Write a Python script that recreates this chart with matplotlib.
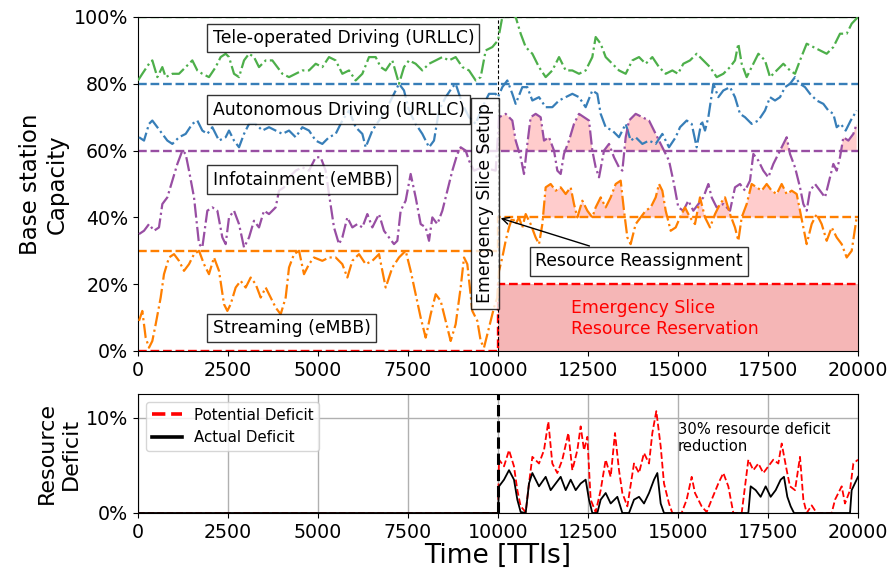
import numpy as np
import matplotlib
matplotlib.use("Agg")
import matplotlib.pyplot as plt
from matplotlib.ticker import PercentFormatter
from matplotlib.lines import Line2D

# ---------------- data (TTI, % of base station capacity) ----------------
tele_x = [0, 120, 306, 398, 537, 676, 769, 954, 1139, 1324, 1509, 1648, 1787, 1972, 2158, 2296,
          2435, 2528, 2667, 2806, 2945, 3084, 3222, 3361, 3547, 3732, 3871, 4010, 4195, 4380,
          4565, 4750, 4936, 5120, 5306, 5491, 5676, 5861, 6046, 6232, 6417, 6602, 6741, 6880,
          7065, 7250, 7389, 7528, 7713, 7898, 8084, 8269, 8454, 8639, 8824, 9010, 9195, 9380,
          9519, 9658, 9843, 10000, 10120, 10306, 10491, 10630, 10769, 10954, 11139, 11324,
          11509, 11695, 11880, 12065, 12250, 12435, 12620, 12713, 12852, 12991, 13176, 13361,
          13547, 13732, 13917, 14102, 14287, 14473, 14658, 14843, 15000, 15148, 15333, 15519,
          15704, 15889, 16074, 16259, 16445, 16583, 16676, 16769, 16908, 17093, 17232, 17417,
          17556, 17741, 17926, 18111, 18250, 18389, 18574, 18760, 18945, 19130, 19315, 19500,
          19686, 19825, 20000]
tele_y = [81, 83, 86, 87, 82, 85, 82, 83, 83, 85, 87, 84, 83, 82, 85, 88,
          89, 88, 83, 82, 87, 89, 88, 85, 87, 87, 85, 83, 82, 83,
          84, 84, 86, 85, 88, 87, 83, 84, 81, 83, 88, 88, 85, 84,
          87, 80, 85, 87, 86, 84, 86, 87, 88, 87, 88, 85, 84, 81,
          82, 90, 91, 93, 100, 101, 100, 95, 91, 89, 85, 82,
          84, 88, 84, 84, 83, 84, 88, 94, 92, 88, 86, 84,
          83, 87, 88, 86, 88, 85, 83, 84, 83, 86, 87, 89,
          87, 85, 82, 83, 85, 87, 92, 86, 82, 86, 89, 87,
          82, 84, 86, 84, 83, 87, 92, 91, 90, 89, 91, 95,
          95, 98, 100]

auto_x = [28, 167, 306, 398, 537, 676, 815, 954, 1139, 1324, 1509, 1648, 1787, 1926, 2065, 2250,
          2435, 2528, 2667, 2806, 2945, 3084, 3269, 3454, 3639, 3824, 4010, 4195, 4380, 4565,
          4750, 4936, 5120, 5306, 5491, 5676, 5861, 6046, 6232, 6324, 6509, 6695, 6880, 7065,
          7250, 7389, 7528, 7713, 7898, 8084, 8222, 8361, 8546, 8732, 8824, 9010, 9195, 9380,
          9565, 9750, 9936, 10000, 10120, 10259, 10398, 10491, 10676, 10815, 10954, 11139,
          11324, 11509, 11695, 11880, 12065, 12250, 12435, 12620, 12759, 12852, 12991, 13176,
          13361, 13547, 13685, 13824, 14010, 14195, 14380, 14565, 14750, 14936, 15056, 15241,
          15380, 15519, 15657, 15750, 15843, 15982, 16120, 16259, 16445, 16583, 16722, 16861,
          17046, 17232, 17417, 17556, 17695, 17834, 17973, 18111, 18250, 18389, 18528, 18667,
          18852, 19037, 19176, 19315, 19408, 19519, 19658, 19797, 19963]
auto_y = [64, 63, 68, 69, 67, 65, 63, 62, 64, 65, 68, 69, 66, 65, 67, 63,
          64, 66, 63, 61, 65, 68, 68, 66, 67, 66, 65, 66, 64, 67,
          66, 63, 62, 64, 65, 69, 72, 67, 65, 61, 66, 69, 72, 76,
          80, 78, 72, 68, 65, 61, 63, 72, 76, 79, 80, 74, 70, 68,
          73, 77, 77, 76, 79, 81, 77, 74, 79, 79, 75, 76,
          73, 73, 75, 76, 77, 76, 73, 78, 77, 71, 67, 66,
          64, 68, 63, 64, 62, 63, 62, 65, 61, 64, 67, 69,
          68, 61, 69, 66, 70, 80, 76, 78, 79, 76, 71, 70,
          68, 69, 72, 76, 75, 76, 79, 80, 82, 80, 79, 77,
          75, 74, 72, 71, 67, 68, 66, 69, 72]

info_x = [28, 167, 306, 444, 583, 676, 815, 954, 1093, 1232, 1324, 1417, 1556, 1695, 1787, 1926,
          2065, 2204, 2343, 2435, 2528, 2667, 2806, 2945, 3084, 3222, 3361, 3500, 3639, 3824,
          3917, 4056, 4195, 4380, 4565, 4750, 4936, 5074, 5213, 5306, 5444, 5583, 5676, 5815,
          5954, 6093, 6232, 6370, 6509, 6695, 6833, 6972, 7111, 7204, 7296, 7435, 7574, 7713,
          7852, 7991, 8084, 8176, 8315, 8454, 8593, 8732, 8871, 8963, 9102, 9195, 9334, 9565,
          9936, 10028, 10213, 10398, 10491, 10630, 10722, 10815, 10907, 11046, 11185, 11278,
          11417, 11556, 11648, 11741, 11833, 11972, 12111, 12250, 12389, 12528, 12620, 12713,
          12806, 12945, 13084, 13222, 13361, 13454, 13547, 13639, 13824, 14010, 14195, 14334,
          14473, 14611, 14750, 14889, 15009, 15148, 15287, 15426, 15565, 15704, 15843, 15935,
          16074, 16259, 16445, 16583, 16722, 16861, 17000, 17093, 17232, 17370, 17509, 17648,
          17787, 17926, 18019, 18111, 18250, 18389, 18482, 18574, 18667, 18806, 18945, 19084,
          19176, 19315, 19408, 19500, 19593, 19732, 19871, 19963]
info_y = [35, 36, 38, 36, 37, 44, 46, 51, 56, 60, 59, 54, 46, 32, 31, 42,
          43, 42, 34, 32, 40, 42, 38, 31, 34, 39, 37, 42, 41, 43,
          48, 49, 52, 54, 55, 54, 58, 58, 54, 47, 37, 32, 34, 40,
          37, 38, 37, 41, 37, 41, 36, 34, 32, 33, 42, 45, 53, 46,
          38, 37, 33, 40, 38, 42, 48, 54, 59, 61, 60, 57, 54, 55,
          54, 70, 71, 69, 63, 58, 53, 62, 70, 71, 70, 63,
          64, 60, 54, 53, 59, 63, 68, 71, 70, 69, 60, 55,
          52, 60, 62, 58, 55, 54, 64, 69, 71, 70, 69, 66,
          63, 60, 57, 50, 43, 42, 45, 42, 44, 46, 50, 46,
          43, 44, 42, 49, 50, 48, 51, 59, 57, 54, 52, 56,
          59, 62, 64, 59, 55, 49, 44, 42, 48, 50, 48, 46,
          50, 56, 54, 58, 64, 63, 65, 68]

stream_x = [28, 120, 213, 306, 398, 491, 630, 722, 861, 1000, 1139, 1278, 1417, 1556, 1695, 1833,
            1972, 2111, 2250, 2389, 2482, 2574, 2713, 2852, 2991, 3130, 3269, 3408, 3547, 3685,
            3824, 3963, 4102, 4195, 4334, 4473, 4611, 4750, 4889, 5120, 5306, 5491, 5676, 5815,
            5954, 6139, 6324, 6509, 6695, 6880, 7065, 7250, 7435, 7574, 7713, 7852, 7991, 8130,
            8269, 8408, 8546, 8685, 8824, 8963, 9056, 9148, 9287, 9426, 9519, 9611, 9750, 9889,
            9982, 10028, 10120, 10213, 10306, 10398, 10491, 10583, 10676, 10769, 10907, 11046,
            11139, 11232, 11324, 11463, 11602, 11741, 11880, 12019, 12111, 12204, 12343, 12482,
            12620, 12713, 12852, 12991, 13130, 13269, 13408, 13500, 13593, 13685, 13824, 13963,
            14102, 14241, 14380, 14473, 14565, 14658, 14797, 14936, 15056, 15194, 15333, 15472,
            15611, 15750, 15889, 16028, 16167, 16306, 16445, 16583, 16676, 16769, 16908, 17046,
            17185, 17324, 17463, 17602, 17741, 17880, 18019, 18158, 18297, 18389, 18482, 18574,
            18713, 18852, 18991, 19130, 19269, 19408, 19547, 19686, 19825, 19963]
stream_y = [9, 12, 4, 1, 3, 8, 16, 23, 28, 29, 27, 24, 26, 29, 30, 26,
            23, 28, 24, 14, 12, 14, 19, 21, 19, 22, 20, 16, 19, 16,
            13, 11, 16, 25, 29, 30, 23, 26, 28, 27, 28, 28, 26, 22,
            27, 29, 26, 27, 29, 19, 25, 28, 30, 24, 17, 10, 4, 11,
            17, 15, 9, 3, 8, 19, 28, 26, 12, 9, 3, 1, 7, 13,
            16, 24, 28, 33, 37, 40, 38, 40, 37, 41, 38, 34,
            32, 38, 49, 50, 48, 49, 47, 49, 44, 40, 45, 42,
            40, 43, 46, 43, 46, 50, 51, 42, 34, 32, 38, 40,
            42, 43, 46, 50, 48, 42, 36, 37, 40, 43, 40, 38,
            46, 40, 37, 41, 44, 46, 41, 37, 33, 40, 44, 50,
            49, 48, 50, 48, 47, 50, 47, 48, 47, 42, 37, 32,
            38, 41, 38, 33, 37, 34, 32, 28, 30, 40]

# upper capacity bound of every slice before / after the emergency slice setup
setup_tti = 10000
bound_x = [0, setup_tti, 20000]
tele_bound = [100, 100, 100]
auto_bound = [80, 80, 80]
info_bound = [60, 60, 60]
stream_bound = [30, 40, 40]
emerg_bound = [0, 20, 20]

# resource deficit (%)
pot_x = [0, 10000, 10028, 10167, 10306, 10444, 10537, 10630, 10769, 10861, 10954, 11139, 11278,
         11398, 11509, 11648, 11787, 11954, 12065, 12204, 12296, 12389, 12482, 12574, 12713,
         12852, 12991, 13130, 13250, 13361, 13454, 13593, 13778, 13917, 14056, 14195, 14287,
         14398, 14519, 14611, 14750, 14843, 15100, 15241, 15380, 15472, 15657, 15796, 15935,
         16120, 16259, 16398, 16537, 16769, 16954, 17093, 17232, 17370, 17509, 17648, 17787,
         17880, 18019, 18111, 18250, 18389, 18482, 18574, 18713, 18852, 19269, 19362, 19547,
         19639, 19778, 19871, 20000]
pot_y = [0, 0, 5.6, 4.9, 6.6, 4.9, 2.4, 0.7, 0.1, 3.1, 5.9, 5.2, 6.6,
         9.6, 5.2, 4.2, 5.6, 8.4, 4.5, 6.6, 9.1, 6.6, 8.0, 1.4, 0.1,
         2.4, 5.6, 3.8, 8.4, 4.5, 2.1, 0.7, 5.2, 4.2, 6.3, 5.2, 8.4,
         10.7, 7.0, 3.1, 1.0, 0, 0, 1.4, 3.8, 2.1, 0.7, 0.1, 1.4,
         3.1, 4.2, 2.8, 0, 0, 5.6, 4.5, 5.2, 4.2, 4.9, 5.6, 5.2,
         7.3, 4.5, 2.8, 2.4, 5.9, 1.4, 0, 0.8, 0, 0, 1.4, 2.8,
         1.0, 2.4, 5.2, 5.6]

act_x = [0, 10000, 10028, 10167, 10306, 10444, 10537, 10630, 10769, 10861, 10954, 11139, 11324,
         11463, 11602, 11741, 11880, 12019, 12158, 12296, 12435, 12528, 12620, 12759, 12852,
         12991, 13130, 13315, 13454, 13639, 13778, 13917, 14056, 14195, 14334, 14426, 14519,
         14611, 16954, 17019, 17158, 17296, 17435, 17574, 17713, 17852, 17944, 18037, 18130,
         18222, 19778, 19824, 20000]
act_y = [0, 0, 2.8, 3.5, 4.5, 3.5, 1.4, 0.1, 0, 3.1, 4.2, 2.8, 3.8,
         2.4, 3.1, 3.8, 2.4, 3.5, 2.4, 3.1, 3.5, 1.4, 0, 0, 1.4,
         2.1, 1.0, 1.7, 0, 0, 1.4, 1.7, 1.0, 2.1, 3.5, 4.2, 1.0,
         0, 0, 2.8, 2.4, 1.7, 2.8, 1.7, 2.4, 3.5, 3.8, 1.7, 0.7,
         0, 0, 2.4, 3.8]

# ---------------- styling ----------------
C_GREEN = "#4daf4a"
C_BLUE = "#377eb8"
C_PURPLE = "#984ea3"
C_ORANGE = "#ff7f00"
C_RED = "#ff0000"
OVERFLOW = "#ffcccc"
RESERVED = "#f5b6b6"

TICK_FS = 13.7
BOX_FS = 12.4

fig = plt.figure(figsize=(8.91, 5.74), dpi=100)
ax = fig.add_axes([138 / 891, 1 - 351 / 574, 720 / 891, 334 / 574])
ax2 = fig.add_axes([138 / 891, 1 - 513 / 574, 720 / 891, 119 / 574])

box = dict(boxstyle="square,pad=0.3", facecolor="white", edgecolor="black", alpha=0.8)


def bound_at(x, bound):
    x = np.asarray(x, dtype=float)
    return np.where(x < setup_tti, bound[0], bound[-1])


# reserved capacity for the emergency slice
ax.fill_between(bound_x[1:], 0, emerg_bound[1:], color=RESERVED, lw=0, zorder=1)

# overflow of the eMBB slices above their bound
for xs, ys, bnd in [(info_x, info_y, info_bound), (stream_x, stream_y, stream_bound)]:
    xa = np.asarray(xs, dtype=float)
    ya = np.asarray(ys, dtype=float)
    ba = bound_at(xa, bnd)
    ax.fill_between(xa, ba, ya, where=ya > ba, interpolate=True,
                    color=OVERFLOW, lw=0, zorder=1)

# slice bounds
for bnd, col in [(tele_bound, C_GREEN), (auto_bound, C_BLUE), (info_bound, C_PURPLE),
                 (stream_bound, C_ORANGE), (emerg_bound, C_RED)]:
    ax.plot(bound_x, bnd, drawstyle="steps-post", ls="--", lw=1.7, color=col, zorder=2)

# slice usage
for xs, ys, col in [(tele_x, tele_y, C_GREEN), (auto_x, auto_y, C_BLUE),
                    (info_x, info_y, C_PURPLE), (stream_x, stream_y, C_ORANGE)]:
    ax.plot(xs, ys, ls="-.", lw=1.6, color=col, zorder=3)

ax.axvline(setup_tti, color="black", ls="--", lw=0.8, dashes=(3, 2), zorder=2)

ax.set_xlim(0, 20000)
ax.set_ylim(0, 100)
ax.yaxis.set_major_formatter(PercentFormatter(100, decimals=0))
ax.set_xticks(np.arange(0, 20001, 2500))
ax.tick_params(labelsize=TICK_FS)
ax.set_ylabel("Base station\nCapacity", fontsize=16.5)

ax.text(2070, 93.8, "Tele-operated Driving (URLLC)", fontsize=BOX_FS, va="center",
        ha="left", bbox=box, zorder=5)
ax.text(2070, 72.3, "Autonomous Driving (URLLC)", fontsize=BOX_FS, va="center",
        ha="left", bbox=box, zorder=5)
ax.text(2070, 51.3, "Infotainment (eMBB)", fontsize=BOX_FS, va="center",
        ha="left", bbox=box, zorder=5)
ax.text(2070, 6.9, "Streaming (eMBB)", fontsize=BOX_FS, va="center",
        ha="left", bbox=box, zorder=5)
ax.text(9640, 44.2, "Emergency Slice Setup", fontsize=BOX_FS, rotation=90,
        va="center", ha="center", bbox=box, zorder=5)
ax.annotate("Resource Reassignment", xy=(setup_tti, 40), xytext=(13917, 26.8),
            fontsize=BOX_FS, va="center", ha="center", bbox=box, zorder=5,
            arrowprops=dict(arrowstyle="->", color="black", lw=1))
ax.text(12030, 9.7, "Emergency Slice\nResource Reservation", fontsize=BOX_FS,
        color=C_RED, va="center", ha="left", zorder=5)

# ---------------- resource deficit ----------------
ax2.plot(pot_x, pot_y, color=C_RED, ls="--", lw=1.3, zorder=3)
ax2.plot(act_x, act_y, color="black", ls="-", lw=1.3, zorder=4)
ax2.axvline(setup_tti, color="black", ls="--", lw=2.2, zorder=5)
ax2.grid(True, color="#b0b0b0", lw=1)
ax2.set_axisbelow(True)
ax2.set_xlim(0, 20000)
ax2.set_ylim(0, 12.5)
ax2.set_yticks([0, 10])
ax2.yaxis.set_major_formatter(PercentFormatter(100, decimals=0))
ax2.set_xticks(np.arange(0, 20001, 2500))
ax2.tick_params(labelsize=TICK_FS)
ax2.set_ylabel("Resource\nDeficit", fontsize=16)
ax2.set_xlabel("Time [TTIs]", fontsize=19, labelpad=1)
ax2.text(15000, 7.9, "30% resource deficit\nreduction", fontsize=10.6, va="center", ha="left")

handles = [Line2D([], [], color=C_RED, ls="--", lw=2.6),
           Line2D([], [], color="black", ls="-", lw=2.6)]
ax2.legend(handles, ["Potential Deficit", "Actual Deficit"], loc="upper left",
           fontsize=10.8)

fig.savefig("out.png", dpi=100)
